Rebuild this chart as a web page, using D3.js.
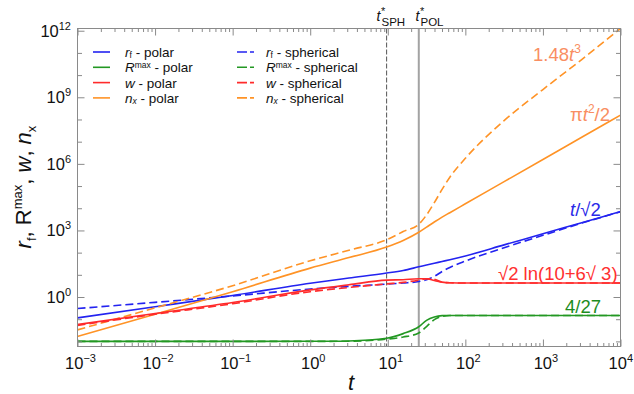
<!DOCTYPE html>
<html><head><meta charset="utf-8">
<script src="https://cdn.jsdelivr.net/npm/d3@7"></script>
<style>body{margin:0;background:#fff}svg{display:block;font-family:"Liberation Sans",Arial,sans-serif}</style>
</head><body><svg id="c" width="634" height="394"></svg>
<script>
// ---- data ----
const tVals      = [0.001, 0.01, 0.1, 1, 3.16, 9.66, 15.8, 25.1, 31.6, 39.8, 50.1, 63.1, 100, 316, 1000, 3162, 10000];
const rfPolar    = [0.115, 0.363, 1.17, 4.17, 7.2, 12.0, 15.8, 22.9, 27.5, 33.1, 39.8, 47.9, 70.8, 224, 708, 2239, 7080];
const rfSpher    = [0.302, 0.575, 1.12, 2.29, 3.02, 3.80, 4.27, 5.01, 6.03, 8.51, 14.1, 21.4, 41.7, 166, 603, 2138, 6918];
const rmaxPolar  = [0.01, 0.01, 0.01, 0.0101, 0.0105, 0.0138, 0.0224, 0.0457, 0.0891, 0.126, 0.145, 0.148, 0.148, 0.148, 0.148, 0.148, 0.148];
const rmaxSpher  = [0.01, 0.01, 0.01, 0.01, 0.0102, 0.0126, 0.0158, 0.024, 0.0468, 0.0955, 0.135, 0.148, 0.148, 0.148, 0.148, 0.148, 0.148];
const wPolar     = [0.0575, 0.182, 0.562, 2.09, 3.55, 5.75, 6.03, 6.61, 6.61, 5.50, 4.68, 4.37, 4.26, 4.26, 4.26, 4.26, 4.26];
const wSpher     = [0.0525, 0.166, 0.501, 1.74, 2.69, 3.89, 4.57, 5.75, 6.61, 6.31, 4.68, 4.37, 4.26, 4.26, 4.26, 4.26, 4.26];
const nxPolar    = [0.0166, 0.166, 1.74, 20.0, 60.0, 178, 355, 832, 1413, 2399, 3981, 6310, 15849, 1.58e5, 1.58e6, 1.58e7, 1.58e8];
const nxSpher    = [0.0331, 0.324, 3.24, 42.7, 129, 380, 891, 1905, 5012, 17783, 70795, 2.51e5, 1.78e6, 8.91e7, 2.24e9, 5.01e10, 1.26e12];
const xTickExps  = [-3, -2, -1, 0, 1, 2, 3, 4];
const yTickExps  = [0, 3, 6, 9, 12];
const tSPH = 9.66, tPOL = 25.1;

const C = {blue:"#2323f0", green:"#239823", red:"#ff2b2b", orange:"#ff9326"};
const series = [
  {vals: rfPolar,   color: C.blue,   dash: null},
  {vals: rfSpher,   color: C.blue,   dash: "8,4"},
  {vals: rmaxPolar, color: C.green,  dash: null},
  {vals: rmaxSpher, color: C.green,  dash: "8,4"},
  {vals: nxPolar,   color: C.orange, dash: null},
  {vals: nxSpher,   color: C.orange, dash: "8,4"},
  {vals: wPolar,    color: C.red,    dash: null},
  {vals: wSpher,    color: C.red,    dash: "8,4"}
];

// ---- layout ----
const L = 77.5, R = 620.5, T = 28.5, B = 346.5;
const svg = d3.select("#c");
const x = d3.scaleLog().domain([1e-3, 1e4]).range([L, R]);
const y = d3.scaleLog().domain([Math.pow(10, -2.23), Math.pow(10, 12.1)]).range([B, T]);
const frame = "#8a8a8a";

svg.append("defs").append("clipPath").attr("id", "clip")
  .append("rect").attr("x", L).attr("y", T).attr("width", R - L).attr("height", B - T);

// vertical marker lines
svg.append("line").attr("x1", x(tSPH)).attr("x2", x(tSPH)).attr("y1", T).attr("y2", B)
  .attr("stroke", "#555").attr("stroke-width", 1).attr("stroke-dasharray", "5,2");
svg.append("line").attr("x1", x(tPOL)).attr("x2", x(tPOL)).attr("y1", T).attr("y2", B)
  .attr("stroke", "#a3a3a3").attr("stroke-width", 2);

// curves
const line = d3.line().x((d, i) => x(tVals[i])).y(d => y(d)).curve(d3.curveMonotoneX);
const g = svg.append("g").attr("clip-path", "url(#clip)");
series.forEach(s => {
  g.append("path").attr("d", line(s.vals)).attr("fill", "none")
    .attr("stroke", s.color).attr("stroke-width", 1.6)
    .attr("stroke-dasharray", s.dash);
});

// axes (ticks inward)
const xMajor = xTickExps.map(e => Math.pow(10, e));
const xMinor = [];
for (let e = -3; e < 4; e++) for (let k = 2; k <= 9; k++) xMinor.push(k * Math.pow(10, e));
const yAll = d3.range(-2, 13).map(e => Math.pow(10, e));
const yMajor = yTickExps.map(e => Math.pow(10, e));
const yMinor = yAll.filter(v => !yMajor.includes(v));

function ax(a, tr) {
  const gg = svg.append("g").attr("transform", tr).call(a);
  gg.select(".domain").remove();
  gg.selectAll("text").remove();
  gg.selectAll("line").attr("stroke", frame);
  return gg;
}
ax(d3.axisBottom(x).tickValues(xMajor).tickSize(-7), `translate(0,${B})`);
ax(d3.axisBottom(x).tickValues(xMinor).tickSize(-3.5), `translate(0,${B})`);
ax(d3.axisTop(x).tickValues(xMajor).tickSize(-7), `translate(0,${T})`);
ax(d3.axisTop(x).tickValues(xMinor).tickSize(-3.5), `translate(0,${T})`);
ax(d3.axisLeft(y).tickValues(yMajor).tickSize(-7), `translate(${L},0)`);
ax(d3.axisLeft(y).tickValues(yMinor).tickSize(-4.5), `translate(${L},0)`);
ax(d3.axisRight(y).tickValues(yMajor).tickSize(-7), `translate(${R},0)`);
ax(d3.axisRight(y).tickValues(yMinor).tickSize(-4.5), `translate(${R},0)`);

svg.append("rect").attr("x", L).attr("y", T).attr("width", R - L).attr("height", B - T)
  .attr("fill", "none").attr("stroke", frame).attr("stroke-width", 1);

// tick labels
const fs = 16.5;
xTickExps.forEach((e, i) => {
  const last = i === xTickExps.length - 1;
  const t = svg.append("text").attr("x", last ? 633 : x(Math.pow(10, e)) + 3).attr("y", 369)
    .attr("text-anchor", last ? "end" : "middle").attr("font-size", fs).attr("fill", "#111");
  t.append("tspan").text("10");
  t.append("tspan").attr("dy", -7).attr("font-size", 11).text(e < 0 ? "\u2212" + (-e) : String(e));
});
yTickExps.forEach(e => {
  const t = svg.append("text").attr("x", 71).attr("y", y(Math.pow(10, e)) + 6)
    .attr("text-anchor", "end").attr("font-size", fs).attr("fill", "#111");
  t.append("tspan").text("10");
  t.append("tspan").attr("dy", -7).attr("font-size", 11).text(String(e));
});

// axis titles
svg.append("text").attr("x", 351).attr("y", 390).attr("text-anchor", "middle")
  .attr("font-size", 22).attr("font-style", "italic").attr("fill", "#111").text("t");
{
  const t = svg.append("text").attr("transform", "translate(31,187) rotate(-90)")
    .attr("text-anchor", "middle").attr("font-size", 22).attr("fill", "#111");
  t.append("tspan").attr("font-style", "italic").text("r");
  t.append("tspan").attr("dy", 5).attr("font-size", 13).text("f");
  t.append("tspan").attr("dy", -5).text(", R");
  t.append("tspan").attr("dy", -9).attr("font-size", 13).text("max");
  t.append("tspan").attr("dy", 9).text(", ");
  t.append("tspan").attr("font-style", "italic").text("w");
  t.append("tspan").text(", ");
  t.append("tspan").attr("font-style", "italic").text("n");
  t.append("tspan").attr("dy", 5).attr("font-size", 13).text("x");
}

// marker labels
function mark(xp, sub) {
  const t = svg.append("text").attr("x", xp).attr("y", 21).attr("fill", "#111");
  t.append("tspan").attr("font-size", 14).attr("font-style", "italic").text("t");
  t.append("tspan").attr("font-size", 11).attr("dy", -6).attr("dx", 0.5).text("*");
  t.append("tspan").attr("font-size", 11.5).attr("x", xp + 5).attr("dy", 11).text(sub);
}
mark(376.5, "SPH");
mark(415.5, "POL");

// legend
const legRows = [
  [["r", "it", 0, 13.5], ["f", "", 1, 8.5], [" - ", "", -1, 13.5]],
  [["R", "it", 0, 13.5], ["max", "", -4, 8.5], [" - ", "", 4, 13.5]],
  [["w", "it", 0, 13.5], [" - ", "", 0, 13.5]],
  [["n", "it", 0, 13.5], ["x", "it", 1, 8.5], [" - ", "", -1, 13.5]]
];
const legColors = [C.blue, C.green, C.red, C.orange];
[["polar", null, 93, 125], ["spherical", "10,3,4,0", 237, 266]].forEach(([word, dash, lx, tx]) => {
  legRows.forEach((parts, i) => {
    const cy = 52 + i * 15.3;
    svg.append("line").attr("x1", lx).attr("x2", lx + 17).attr("y1", cy).attr("y2", cy)
      .attr("stroke", legColors[i]).attr("stroke-width", 1.6).attr("stroke-dasharray", dash);
    const t = svg.append("text").attr("x", tx).attr("y", cy + 5).attr("font-size", 13.5).attr("fill", "#111");
    parts.forEach(([s, st, dy, size]) => {
      const ts = t.append("tspan").text(s).attr("dy", dy).attr("font-size", size);
      if (st === "it") ts.attr("font-style", "italic");
    });
    t.append("tspan").text(word);
  });
});

// curve annotations
function ann(xp, yp, color, parts) {
  const t = svg.append("text").attr("x", xp).attr("y", yp).attr("font-size", 18.5).attr("fill", color);
  parts.forEach(p => {
    const ts = t.append("tspan").text(p.t);
    if (p.it) ts.attr("font-style", "italic");
    if (p.sup) ts.attr("dy", -8).attr("font-size", 12);
    if (p.down) ts.attr("dy", 8);
  });
}
const sal = "#f98e62";
ann(533, 61, sal, [{t:"1.48"}, {t:"t", it:true}, {t:"3", sup:true}]);
ann(570, 121, sal, [{t:"\u03c0"}, {t:"t", it:true}, {t:"2", sup:true}, {t:"/2", down:true}]);
ann(570, 216, "#2a2ae8", [{t:"t", it:true}, {t:"/\u221a2"}]);
ann(498, 280, "#ff3030", [{t:"\u221a2 ln(10+6\u221a 3)"}]);
ann(565, 313, "#1e8c1e", [{t:"4/27"}]);
</script></body></html>
